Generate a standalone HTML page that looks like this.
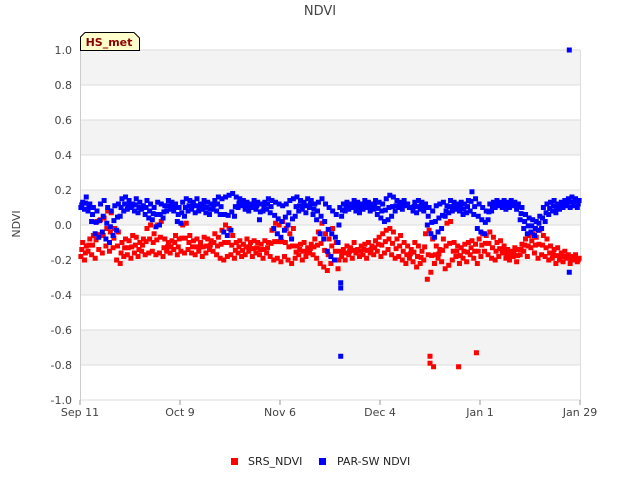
<!DOCTYPE html>
<html><head><meta charset="utf-8"><style>
body{margin:0;background:#fff;font-family:"Liberation Sans","DejaVu Sans",sans-serif}
svg text{font-family:"DejaVu Sans","Liberation Sans",sans-serif}
</style></head><body>
<svg id="chart" width="640" height="480">
<text x="320" y="15" text-anchor="middle" font-size="13" fill="#444">NDVI</text>
<g id="bands"></g><g id="grid"></g>
<text x="20" y="224" text-anchor="middle" font-size="11" fill="#444" transform="rotate(-90 20 224)">NDVI</text>
<g id="yticks"></g><g id="xticks"></g>
<g id="marks"></g>
<g>
<path d="M80.5,50.5 L80.5,37 L85,32.5 L134,32.5 L139.5,38 L139.5,50.5 Z" fill="#ffffcc" stroke="#000"/>
<text x="109" y="46" text-anchor="middle" font-size="11" font-weight="bold" fill="#8b0000">HS_met</text>
</g>
<g>
<rect x="231" y="458" width="7" height="7" fill="#ff0000"/>
<text x="248" y="465" font-size="11" fill="#222">SRS_NDVI</text>
<rect x="319" y="458" width="7" height="7" fill="#0000ff"/>
<text x="337" y="465" font-size="11" fill="#222">PAR-SW NDVI</text>
</g>
</svg>
<script>
const xTickLabels=["Sep 11","Oct 9","Nov 6","Dec 4","Jan 1","Jan 29"];
const xTickDays=[0,28,56,84,112,140];
const yTicks=[1.0,0.8,0.6,0.4,0.2,0.0,-0.2,-0.4,-0.6,-0.8,-1.0];
const redLo=[-0.18,-0.20,-0.15,-0.17,-0.19,-0.14,-0.16,-0.12,-0.15,-0.13,-0.20,-0.22,-0.18,-0.17,-0.19,-0.16,-0.18,-0.15,-0.17,-0.16,-0.15,-0.17,-0.16,-0.18,-0.15,-0.16,-0.14,-0.17,-0.15,-0.16,-0.14,-0.16,-0.17,-0.15,-0.18,-0.16,-0.14,-0.15,-0.17,-0.19,-0.20,-0.18,-0.17,-0.19,-0.16,-0.18,-0.17,-0.15,-0.18,-0.16,-0.17,-0.19,-0.16,-0.18,-0.20,-0.19,-0.21,-0.18,-0.20,-0.22,-0.19,-0.17,-0.20,-0.18,-0.16,-0.17,-0.19,-0.22,-0.24,-0.26,-0.22,-0.20,-0.25,-0.18,-0.20,-0.17,-0.19,-0.16,-0.18,-0.17,-0.19,-0.16,-0.17,-0.15,-0.18,-0.16,-0.14,-0.17,-0.19,-0.18,-0.20,-0.22,-0.19,-0.21,-0.24,-0.22,-0.20,-0.31,-0.27,-0.22,-0.19,-0.21,-0.25,-0.23,-0.20,-0.18,-0.22,-0.19,-0.21,-0.17,-0.19,-0.22,-0.18,-0.15,-0.17,-0.19,-0.20,-0.18,-0.16,-0.19,-0.20,-0.18,-0.21,-0.17,-0.15,-0.18,-0.13,-0.16,-0.19,-0.17,-0.18,-0.20,-0.19,-0.22,-0.20,-0.21,-0.19,-0.22,-0.20,-0.21];
const redHi=[-0.10,-0.12,-0.08,-0.06,0.02,0.03,0.04,0.08,0.07,-0.02,-0.04,-0.10,-0.08,-0.09,-0.06,-0.07,-0.10,-0.08,-0.02,0.00,-0.05,0.00,0.02,-0.08,-0.10,-0.09,-0.06,-0.08,0.00,0.01,-0.06,-0.09,-0.08,-0.10,-0.07,-0.08,-0.09,-0.05,-0.07,-0.03,0.00,-0.02,-0.06,-0.10,-0.09,-0.11,-0.08,-0.10,-0.09,-0.10,-0.11,-0.09,-0.10,-0.03,0.01,0.00,0.02,-0.02,-0.05,-0.02,-0.12,-0.11,-0.10,-0.13,-0.11,-0.08,-0.04,0.01,-0.05,-0.08,-0.02,-0.10,-0.15,-0.14,-0.12,-0.13,-0.10,-0.14,-0.12,-0.11,-0.10,-0.12,-0.09,-0.07,-0.05,-0.03,-0.02,-0.04,-0.08,-0.06,-0.10,-0.12,-0.14,-0.10,-0.12,-0.15,-0.05,-0.03,-0.08,-0.12,-0.14,-0.08,0.01,0.02,-0.10,-0.12,-0.13,-0.11,-0.10,-0.09,-0.11,-0.08,-0.05,-0.06,-0.04,-0.07,-0.10,-0.09,-0.12,-0.14,-0.15,-0.13,-0.14,-0.11,-0.08,-0.06,-0.05,-0.07,-0.03,-0.06,-0.08,-0.12,-0.14,-0.13,-0.16,-0.15,-0.17,-0.18,-0.17,-0.19];
const blueLo=[0.10,0.09,0.08,0.02,-0.05,-0.07,-0.04,-0.08,-0.10,-0.06,-0.03,0.05,0.08,0.09,0.10,0.08,0.07,0.09,0.06,0.04,0.03,-0.01,0.00,0.04,0.08,0.09,0.08,0.02,0.01,0.05,0.08,0.09,0.07,0.08,0.09,0.07,0.06,0.09,0.08,0.06,-0.04,-0.06,-0.03,0.05,0.10,0.11,0.09,0.08,0.10,0.09,0.03,0.08,0.09,0.07,-0.02,-0.05,-0.07,-0.03,0.00,-0.08,0.05,0.08,0.09,0.07,0.10,0.06,0.03,-0.05,-0.08,-0.15,-0.18,-0.20,-0.10,0.05,0.08,0.09,0.10,0.08,0.07,0.09,0.10,0.08,0.09,0.06,0.04,0.02,0.03,0.05,0.08,0.10,0.09,0.11,0.10,0.08,0.07,0.09,0.08,0.00,-0.05,-0.07,-0.04,-0.02,0.05,0.07,0.08,0.09,0.08,0.06,0.07,0.08,0.06,-0.02,-0.04,-0.05,0.03,0.08,0.10,0.11,0.10,0.09,0.10,0.11,0.09,0.03,-0.02,-0.05,-0.04,-0.06,-0.03,-0.02,0.02,0.06,0.08,0.07,0.09,0.10,0.11,0.10,0.11,0.10];
const blueHi=[0.13,0.16,0.12,0.10,0.08,0.12,0.14,0.10,0.08,0.11,0.12,0.15,0.16,0.14,0.12,0.15,0.13,0.11,0.14,0.12,0.10,0.13,0.12,0.11,0.14,0.13,0.12,0.10,0.13,0.15,0.14,0.13,0.15,0.12,0.14,0.13,0.12,0.14,0.16,0.15,0.16,0.17,0.18,0.16,0.15,0.14,0.13,0.12,0.14,0.13,0.12,0.13,0.15,0.14,0.13,0.12,0.11,0.12,0.14,0.15,0.16,0.14,0.13,0.15,0.14,0.12,0.13,0.15,0.12,0.10,0.08,0.06,0.10,0.12,0.13,0.12,0.14,0.13,0.12,0.14,0.13,0.12,0.14,0.13,0.12,0.15,0.17,0.16,0.14,0.13,0.14,0.12,0.10,0.13,0.14,0.13,0.12,0.10,0.08,0.11,0.12,0.13,0.11,0.14,0.13,0.12,0.13,0.12,0.14,0.19,0.15,0.12,0.10,0.08,0.12,0.13,0.14,0.13,0.14,0.13,0.14,0.13,0.12,0.10,0.06,0.04,0.03,0.02,0.05,0.10,0.12,0.13,0.14,0.12,0.13,0.14,0.15,0.16,0.15,0.14];
const redOutDays=[98,98,99,106,111];
const redOutVals=[-0.75,-0.79,-0.81,-0.81,-0.73];
const blueOutDays=[73,73,73,137,137];
const blueOutVals=[-0.75,-0.33,-0.36,1.0,-0.27];

const X0=80,X1=580,Y0=50,Y1=400,DMAX=140;
const xs=d=>X0+(X1-X0)*d/DMAX;
const ys=v=>Y0+(1-v)/2*(Y1-Y0);
const NS="http://www.w3.org/2000/svg";
function mk(tag,attrs,parent){const e=document.createElementNS(NS,tag);for(const k in attrs)e.setAttribute(k,attrs[k]);document.getElementById(parent).appendChild(e);return e;}
for(let i=0;i<yTicks.length-1;i++){
  if(i%2===0){const b=mk('rect',{x:X0,y:ys(yTicks[i]),width:X1-X0,height:ys(yTicks[i+1])-ys(yTicks[i]),fill:'#f3f3f3'},'bands');
  
  }
}
yTicks.forEach(v=>{
  const l=mk('line',{x1:X0,x2:X1,y1:ys(v),y2:ys(v),stroke:'#dcdcdc'},'grid');
  
  
  const t=mk('text',{x:72,y:ys(v)+4,'text-anchor':'end','font-size':11,fill:'#444'},'yticks');
  t.textContent=v.toFixed(1);
  
  
});
mk('line',{x1:X0+0.5,x2:X0+0.5,y1:Y0,y2:Y1,stroke:'#ccc'},'grid');
mk('line',{x1:X1+0.5,x2:X1+0.5,y1:Y0,y2:Y1,stroke:'#ddd'},'grid');
xTickDays.forEach((d,i)=>{
  mk('line',{x1:xs(d),x2:xs(d),y1:Y1,y2:Y1+5,stroke:'#999'},'xticks');
  const t=mk('text',{x:xs(d),y:Y1+16,'text-anchor':'middle','font-size':11,fill:'#444'},'xticks');
  t.textContent=xTickLabels[i];
  
  
});
function pt(d,v,c,name){
  const r=mk('rect',{x:xs(d)-2.5,y:ys(v)-2.5,width:5,height:5,fill:c},'marks');
  
  
}
function series(lo,hi,c,name){
  lo.forEach((l,i)=>{
    const h=hi[i];
    pt(i+0.25,l,c,name);
    pt(i+0.5,(l+h)/2,c,name);
    pt(i+0.75,h,c,name);
  });
}
series(redLo,redHi,'#ff0000','srs-ndvi-point');
series(blueLo,blueHi,'#0000ff','parsw-ndvi-point');
redOutDays.forEach((d,i)=>pt(d,redOutVals[i],'#ff0000','srs-ndvi-outlier'));
blueOutDays.forEach((d,i)=>pt(d,blueOutVals[i],'#0000ff','parsw-ndvi-outlier'));
</script>
</body></html>
